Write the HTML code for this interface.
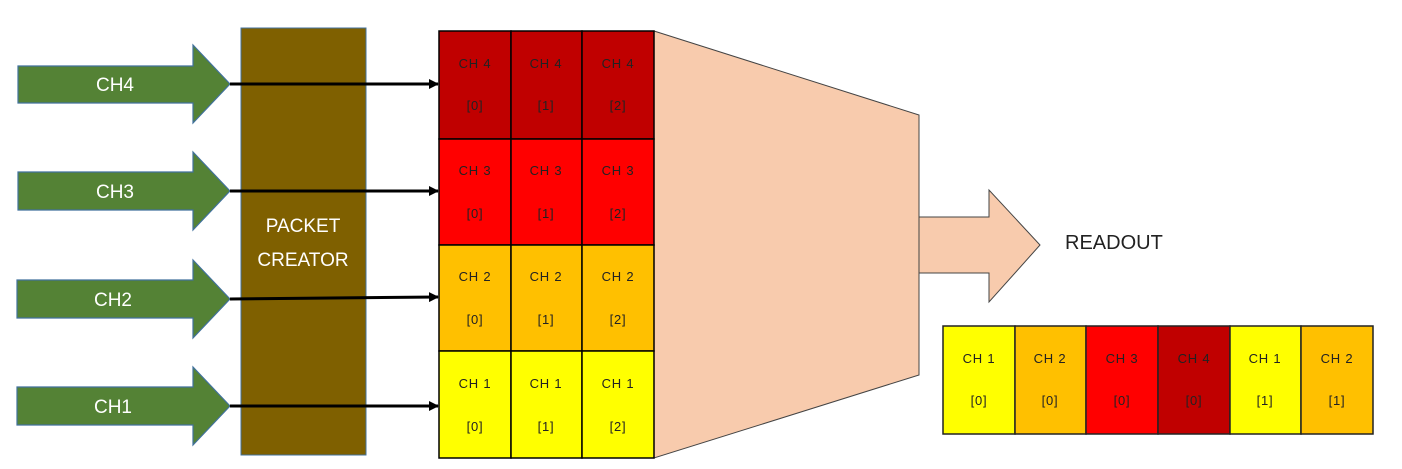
<!DOCTYPE html>
<html><head><style>body{margin:0;background:#fff}svg{display:block}</style></head><body>
<svg width="1402" height="469" xmlns="http://www.w3.org/2000/svg" font-family="Liberation Sans, sans-serif">
<defs><marker id="a" markerWidth="10" markerHeight="10" refX="9" refY="5" orient="auto" markerUnits="userSpaceOnUse"><path d="M0,0 L10,5 L0,10 z" fill="#000"/></marker></defs>
<polygon points="654,31 919,115 919,375 654,458" fill="#f8cbad" stroke="#444" stroke-width="1"/>
<polygon points="919,217 989,217 989,190 1040,245 989,302 989,273 919,273" fill="#f8cbad" stroke="#444" stroke-width="1"/>
<text x="1065" y="249" font-size="20" fill="#222">READOUT</text>
<g stroke="#41719c" stroke-width="1.2" fill="#548235">
<polygon points="18,66 193,66 193,45 230,84 193,123 193,103 18,103"/>
<polygon points="18,172 193,172 193,152 230,191 193,230 193,210 18,210"/>
<polygon points="17,280 193,280 193,260 230,299 193,338 193,318 17,318"/>
<polygon points="17,387 193,387 193,367 230,406 193,445 193,425 17,425"/>
</g>
<g fill="#fff" font-size="19" text-anchor="middle">
<text x="115" y="91">CH4</text><text x="115" y="198">CH3</text><text x="113" y="306">CH2</text><text x="113" y="413">CH1</text>
</g>
<rect x="241" y="28" width="125" height="427" fill="#7f6000" stroke="#41719c" stroke-width="1"/>
<text x="303" y="232" fill="#fff" font-size="19" text-anchor="middle">PACKET</text>
<text x="303" y="266" fill="#fff" font-size="19" text-anchor="middle">CREATOR</text>
<g stroke="#000" stroke-width="1.5">
<rect x="439" y="31" width="72" height="108" fill="#c00000"/><rect x="511" y="31" width="71" height="108" fill="#c00000"/><rect x="582" y="31" width="72" height="108" fill="#c00000"/>
<rect x="439" y="139" width="72" height="106" fill="#ff0000"/><rect x="511" y="139" width="71" height="106" fill="#ff0000"/><rect x="582" y="139" width="72" height="106" fill="#ff0000"/>
<rect x="439" y="245" width="72" height="106" fill="#ffc000"/><rect x="511" y="245" width="71" height="106" fill="#ffc000"/><rect x="582" y="245" width="72" height="106" fill="#ffc000"/>
<rect x="439" y="351" width="72" height="107" fill="#ffff00"/><rect x="511" y="351" width="71" height="107" fill="#ffff00"/><rect x="582" y="351" width="72" height="107" fill="#ffff00"/>
</g>
<g font-size="13" fill="#222" text-anchor="middle" letter-spacing="0.8">
<text x="475" y="68">CH 4</text><text x="546" y="68">CH 4</text><text x="618" y="68">CH 4</text>
<text x="475" y="110">[0]</text><text x="546" y="110">[1]</text><text x="618" y="110">[2]</text>
<text x="475" y="175">CH 3</text><text x="546" y="175">CH 3</text><text x="618" y="175">CH 3</text>
<text x="475" y="218">[0]</text><text x="546" y="218">[1]</text><text x="618" y="218">[2]</text>
<text x="475" y="281">CH 2</text><text x="546" y="281">CH 2</text><text x="618" y="281">CH 2</text>
<text x="475" y="324">[0]</text><text x="546" y="324">[1]</text><text x="618" y="324">[2]</text>
<text x="475" y="388">CH 1</text><text x="546" y="388">CH 1</text><text x="618" y="388">CH 1</text>
<text x="475" y="431">[0]</text><text x="546" y="431">[1]</text><text x="618" y="431">[2]</text>
</g>
<g stroke="#000" stroke-width="3" marker-end="url(#a)">
<line x1="230" y1="84" x2="438" y2="84"/><line x1="230" y1="191" x2="438" y2="191"/><line x1="230" y1="299" x2="438" y2="297"/><line x1="230" y1="406" x2="438" y2="406"/>
</g>
<g stroke="#222" stroke-width="1.5">
<rect x="943" y="326" width="72" height="108" fill="#ffff00"/><rect x="1015" y="326" width="71" height="108" fill="#ffc000"/><rect x="1086" y="326" width="72" height="108" fill="#ff0000"/><rect x="1158" y="326" width="72" height="108" fill="#c00000"/><rect x="1230" y="326" width="71" height="108" fill="#ffff00"/><rect x="1301" y="326" width="72" height="108" fill="#ffc000"/>
</g>
<g font-size="13" fill="#222" text-anchor="middle" letter-spacing="0.8">
<text x="979" y="363">CH 1</text><text x="1050" y="363">CH 2</text><text x="1122" y="363">CH 3</text><text x="1194" y="363">CH 4</text><text x="1265" y="363">CH 1</text><text x="1337" y="363">CH 2</text>
<text x="979" y="405">[0]</text><text x="1050" y="405">[0]</text><text x="1122" y="405">[0]</text><text x="1194" y="405">[0]</text><text x="1265" y="405">[1]</text><text x="1337" y="405">[1]</text>
</g>
</svg>
</body></html>
